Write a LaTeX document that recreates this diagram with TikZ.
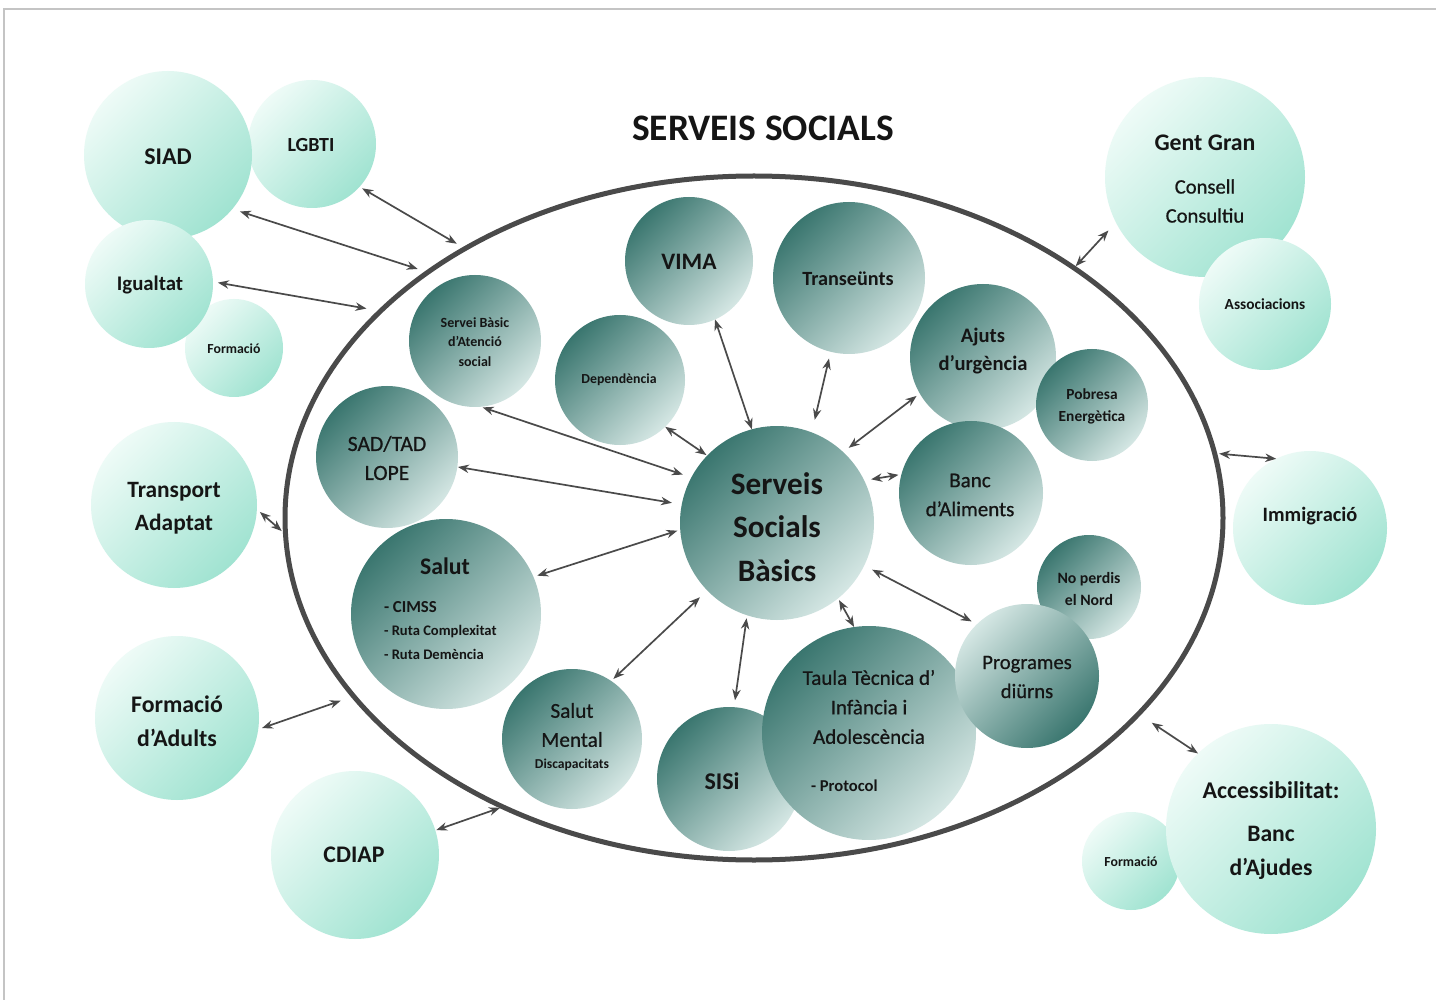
\documentclass[tikz,border=0pt]{standalone}
\usepackage{fontspec}
\setmainfont{Carlito}
\newfontfamily\medfont[FakeBold=0.7]{Carlito}
\usetikzlibrary{arrows.meta,shapes.geometric}
\definecolor{mintL}{HTML}{EEFBF7}
\definecolor{mintD}{HTML}{A0E3D1}
\definecolor{tealD}{HTML}{3A766F}
\definecolor{tealL}{HTML}{D5E7E4}
\definecolor{lineG}{HTML}{4A4A4A}
\definecolor{frameG}{HTML}{C4C4C4}
\definecolor{txt}{HTML}{151515}
\newcommand{\myfs}[2]{\fontsize{#1pt}{#2pt}\selectfont}
\tikzset{
  outerc/.style={circle, draw=none, inner sep=0pt, outer sep=0pt, minimum size=#1pt,
    top color=mintL, bottom color=mintD, shading angle=45},
  innerc/.style={circle, draw=none, inner sep=0pt, outer sep=0pt, minimum size=#1pt,
    top color=tealD, bottom color=tealL, shading angle=45},
  revc/.style={top color=tealL, bottom color=tealD, shading angle=45},
  lbl/.style={inner sep=0pt, outer sep=0pt, text=txt, align=center},
  lbll/.style={inner sep=0pt, outer sep=0pt, text=txt, anchor=west},
  arr/.style={draw=lineG, line width=0.85pt,
    {Stealth[length=5.5pt,width=4.2pt]}-{Stealth[length=5.5pt,width=4.2pt]}},
  bigell/.style={ellipse, draw=lineG, line width=2.5pt, inner sep=0pt, outer sep=0pt,
    minimum width=469pt, minimum height=342pt}
}
\begin{document}
\begin{tikzpicture}[x=0.5pt,y=-0.5pt]
\useasboundingbox (0,0) rectangle (1436,1000);
\fill[white] (0,0) rectangle (1436,1000);
\draw[frameG, line width=0.7pt] (4,1000) -- (4,9) -- (1436,9);

% title
\node[lbl, font=\bfseries\myfs{18.7}{22}] (title) at (763,128) {SERVEIS SOCIALS};

% big ellipse
\node[bigell] (ell) at (754,518) {};

% outer circles
\node[outerc=64] (lgbti) at (312,144) {};
\node[outerc=84] (siad) at (168,155) {};
\node[outerc=49] (forml) at (234,348) {};
\node[outerc=64] (igual) at (149,284) {};
\node[outerc=83] (transp) at (174,505) {};
\node[outerc=82] (fad) at (177,718) {};
\node[outerc=84] (cdiap) at (355,855) {};
\node[outerc=100] (gent) at (1205,177) {};
\node[outerc=66] (assoc) at (1265,304) {};
\node[outerc=77] (immig) at (1310,528) {};
\node[outerc=49] (formr) at (1131,861) {};
\node[outerc=105] (access) at (1271,829) {};

% inner circles
\node[innerc=66] (sba) at (475,341) {};
\node[innerc=65] (dep) at (620,380) {};
\node[innerc=64] (vima) at (689,261) {};
\node[innerc=76] (trans) at (849,278) {};
\node[innerc=73] (ajuts) at (983,357) {};
\node[innerc=56] (pob) at (1092,405) {};
\node[innerc=72] (banc) at (971,493) {};
\node[innerc=71] (sad) at (387,457) {};
\node[innerc=97] (ssb) at (777,523) {};
\node[innerc=95] (salut) at (446,614) {};
\node[innerc=52] (nop) at (1089,587) {};
\node[innerc=70] (smental) at (572,739) {};
\node[innerc=72] (sisi) at (729,779) {};
\node[innerc=107] (taula) at (869,733) {};
\node[innerc=72, revc] (prog) at (1027,676) {};

% outer labels
\node[lbl, font=\bfseries\myfs{12}{14}] (t-siad) at (168,157) {SIAD};
\node[lbl, font=\bfseries\myfs{10}{12}] (t-lgbti) at (311,145) {LGBTI};
\node[lbl, font=\bfseries\myfs{10.4}{12}] (t-igual) at (150,285) {Igualtat};
\node[lbl, font=\bfseries\myfs{6.9}{8}] (t-forml) at (234,349) {Formació};
\node[lbl, font=\bfseries\myfs{11.7}{16.5}] (t-transp) at (174,508) {Transport\\Adaptat};
\node[lbl, font=\bfseries\myfs{11.9}{17}] (t-fad) at (177,721) {Formació\\d’Adults};
\node[lbl, font=\bfseries\myfs{11.9}{14}] (t-cdiap) at (354,855) {CDIAP};
\node[lbl, font=\bfseries\myfs{11.9}{14}] (t-gent) at (1205,143) {Gent Gran};
\node[lbl, font=\medfont\myfs{10.3}{14.5}] (t-consell) at (1205,201) {Consell\\Consultiu};
\node[lbl, font=\bfseries\myfs{7.7}{9}] (t-assoc) at (1265,304) {Associacions};
\node[lbl, font=\bfseries\myfs{10.2}{12}] (t-immig) at (1310,516) {Immigració};
\node[lbl, font=\bfseries\myfs{12}{14}] (t-access) at (1271,790) {Accessibilitat:};
\node[lbl, font=\bfseries\myfs{11.8}{17}] (t-bancaj) at (1271,853) {Banc\\d’Ajudes};
\node[lbl, font=\bfseries\myfs{6.9}{8}] (t-formr) at (1131,862) {Formació};

% inner labels
\node[lbl, font=\bfseries\myfs{7}{9.75}] (t-sba) at (475,342) {Servei Bàsic\\d’Atenció\\social};
\node[lbl, font=\bfseries\myfs{6.9}{8}] (t-dep) at (619,380) {Dependència};
\node[lbl, font=\bfseries\myfs{11.8}{14}] (t-vima) at (689,262) {VIMA};
\node[lbl, font=\bfseries\myfs{10.1}{12}] (t-trans) at (848,279) {Transeünts};
\node[lbl, font=\bfseries\myfs{10.3}{14}] (t-ajuts) at (983,351) {Ajuts\\d’urgència};
\node[lbl, font=\bfseries\myfs{7.7}{11}] (t-pob) at (1092,406) {Pobresa\\Energètica};
\node[lbl, font=\medfont\myfs{10.8}{14.5}] (t-sad) at (387,458) {SAD/TAD\\LOPE};
\node[lbl, font=\bfseries\myfs{15.6}{21.75}] (t-ssb) at (777,527) {Serveis\\Socials\\Bàsics};
\node[lbl, font=\medfont\myfs{10.5}{14.5}] (t-banc) at (970,495) {Banc\\d’Aliments};
\node[lbl, font=\bfseries\myfs{11.9}{14}] (t-salut) at (445,566) {Salut};
\node[lbll, font=\bfseries\myfs{8.4}{10}] (t-cimss) at (384,607) {- CIMSS};
\node[lbll, font=\bfseries\myfs{7.3}{9}] (t-ruta1) at (384,632) {- Ruta Complexitat};
\node[lbll, font=\bfseries\myfs{7.3}{9}] (t-ruta2) at (384,654) {- Ruta Demència};
\node[lbl, font=\bfseries\myfs{7.9}{11}] (t-nop) at (1089,589) {No perdis\\el Nord};
\node[lbl, font=\medfont\myfs{10.3}{14.5}] (t-prog) at (1027,677) {Programes\\diürns};
\node[lbl, font=\medfont\myfs{10.6}{14.5}] (t-smental) at (572,725) {Salut\\Mental};
\node[lbl, font=\bfseries\myfs{6.8}{8}] (t-disc) at (572,765) {Discapacitats};
\node[lbl, font=\bfseries\myfs{12}{14}] (t-sisi) at (722,781) {SISi};
\node[lbl, font=\medfont\myfs{10.5}{14.75}] (t-taula) at (869,707) {Taula Tècnica d’\\Infància i\\Adolescència};
\node[lbll, font=\bfseries\myfs{8.3}{10}] (t-prot) at (811,786) {- Protocol};

% connectors: outer circles <-> ellipse
\draw[arr, shorten <=1.5pt, shorten >=4.8pt] (lgbti.-42) -- (ell.137.8);
\draw[arr, shorten <=4pt, shorten >=5.3pt] (siad.-40.7) -- (ell.143.2);
\draw[arr, shorten <=2.5pt, shorten >=7.2pt] (igual.2) -- (ell.151);
\draw[arr, shorten <=2pt, shorten >=2.5pt] (transp.-3.3) -- (ell.182);
\draw[arr, shorten <=2pt, shorten >=6.9pt] (fad.-8.7) -- (ell.204.2);
\draw[arr, shorten <=0.5pt, shorten >=1.5pt] (cdiap.17) -- (ell.229.3);
\draw[arr, shorten <=5.5pt, shorten >=1.2pt] (gent.207.3) -- (ell.38.8);
\draw[arr, shorten <=0pt, shorten >=2.3pt] (immig.116.6) -- (ell.8.5);
\draw[arr, shorten <=0pt, shorten >=8pt] (access.134.6) -- (ell.-27);

% connectors: inner circles <-> Serveis Socials Basics
\draw[arr, shorten <=1pt, shorten >=4.5pt] (sba.-85) -- (ssb.152.5);
\draw[arr, shorten <=0pt, shorten >=0.5pt] (dep.-46) -- (ssb.136);
\draw[arr, shorten <=0pt, shorten >=0pt] (vima.-66.7) -- (ssb.105);
\draw[arr, shorten <=3.5pt, shorten >=6.5pt] (trans.-104.7) -- (ssb.69.3);
\draw[arr, shorten <=2pt, shorten >=3.5pt] (ajuts.210.6) -- (ssb.47);
\draw[arr, shorten <=1.5pt, shorten >=3.5pt] (banc.165.4) -- (ssb.26.8);
\draw[arr, shorten <=0.3pt, shorten >=5pt] (sad.-8) -- (ssb.169.2);
\draw[arr, shorten <=2pt, shorten >=1.5pt] (salut.23.2) -- (ssb.184);
\draw[arr, shorten <=1.5pt, shorten >=5pt] (smental.56.7) -- (ssb.224.2);
\draw[arr, shorten <=3.5pt, shorten >=1.5pt] (sisi.86.4) -- (ssb.252);
\draw[arr, shorten <=0pt, shorten >=1pt] (taula.98.7) -- (ssb.309.3);
\draw[arr, shorten <=3pt, shorten >=4.5pt] (prog.134.5) -- (ssb.-26.3);
\end{tikzpicture}
\end{document}
